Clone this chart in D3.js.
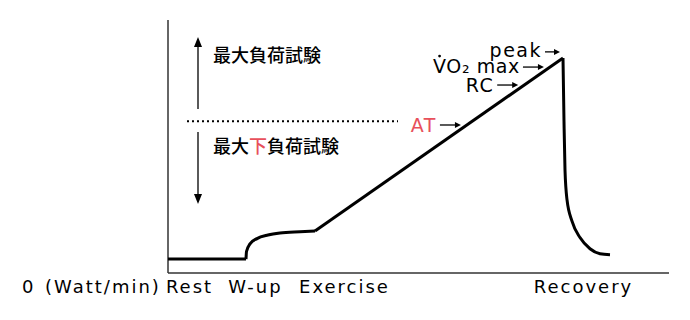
<!DOCTYPE html>
<html><head><meta charset="utf-8">
<script src="https://cdn.jsdelivr.net/npm/d3@7"></script>
<style>
body{margin:0;background:#fff;}
text{font-family:"DejaVu Sans","Noto Sans",sans-serif;}
text.jp{font-family:"Noto Sans CJK JP",sans-serif;}
</style></head>
<body><svg id="c" width="690" height="320"></svg>
<script>
// phase labels along the x axis (time units)
const phaseLabels = ["Rest","W-up","Exercise","Recovery"];
const phasePos = [2.05, 8.65, 17.55, 41.45];
const originLabel = ["0","(Watt/min)"];
// VO2 curve segments: [time, VO2]
const restPts = [[0,5.5],[7.8,5.5]];
const warmupPts = [[7.8,5.5],[7.85,8.5],[8.2,11.5],[8.9,13.6],[10,15],[11.2,15.8],[13.2,16.3],[14.7,16.6]];
const exercisePts = [[14.7,16.6],[39.5,85]];
const recoveryPts = [[39.5,85],[39.6,60],[39.7,40.7],[39.9,29],[40.4,20.5],[41.2,14],[42.2,9.6],[43.2,7.6],[44.2,7.2]];
// threshold markers on the ramp: label, VO2 level
const markers = [["AT",58.5],["RC",74.3],["VO₂ max",81.4],["peak",87.4]];
const upperLabel = "最大負荷試験";
const lowerLabel = ["最大","下","負荷試験"];
const thresholdLevel = 60;

const svg = d3.select("#c");
const x = d3.scaleLinear().domain([0,50]).range([168,668]);
const y = d3.scaleLinear().domain([0,100]).range([273,20]);

// axes
svg.append("line").attr("x1",x(0)).attr("x2",x(0)).attr("y1",y(100)).attr("y2",y(0)).attr("stroke","#333").attr("stroke-width",1.5);
svg.append("line").attr("x1",x(0)).attr("x2",x(50.1)).attr("y1",y(0)).attr("y2",y(0)).attr("stroke","#333").attr("stroke-width",1.5);

const lin = d3.line().x(d=>x(d[0])).y(d=>y(d[1]));
const mono = d3.line().x(d=>x(d[0])).y(d=>y(d[1])).curve(d3.curveMonotoneX);
const g = svg.append("g").attr("fill","none").attr("stroke","#000").attr("stroke-width",3).attr("stroke-linejoin","round");
g.append("path").attr("d",lin(restPts));
g.append("path").attr("d",mono(warmupPts));
g.append("path").attr("d",lin(exercisePts));
g.append("path").attr("d",mono(recoveryPts));

// dotted threshold line
svg.append("line").attr("x1",187).attr("x2",398).attr("y1",y(thresholdLevel)).attr("y2",y(thresholdLevel))
  .attr("stroke","#000").attr("stroke-width",2).attr("stroke-dasharray","2,3");

// vertical arrows
const ax = 198;
svg.append("line").attr("x1",ax).attr("x2",ax).attr("y1",46).attr("y2",109).attr("stroke","#000").attr("stroke-width",1.3);
svg.append("path").attr("d",`M${ax},37 L${ax-4},47 L${ax+4},47 Z`).attr("fill","#000");
svg.append("line").attr("x1",ax).attr("x2",ax).attr("y1",132).attr("y2",195).attr("stroke","#000").attr("stroke-width",1.3);
svg.append("path").attr("d",`M${ax},204 L${ax-4},194 L${ax+4},194 Z`).attr("fill","#000");

svg.append("text").attr("class","jp").attr("x",213).attr("y",62).attr("font-size",18).attr("font-weight",500).text(upperLabel);
const lt = svg.append("text").attr("class","jp").attr("x",213).attr("y",153).attr("font-size",18).attr("font-weight",500);
lowerLabel.forEach((s,i)=>lt.append("tspan").attr("fill",i===1?"#e8505b":"#000").text(s));

// marker labels with small arrows
const slope = (exercisePts[1][1]-exercisePts[0][1])/(exercisePts[1][0]-exercisePts[0][0]);
markers.forEach(([lab,v],i)=>{
  const last = i===markers.length-1;
  const tx = Math.min(exercisePts[0][0] + (v-exercisePts[0][1])/slope, exercisePts[1][0]);
  const px = x(tx) - (last?3:6), py = y(v);
  const len = last?15:21;
  svg.append("line").attr("x1",px-len).attr("x2",px-3).attr("y1",py).attr("y2",py).attr("stroke","#000").attr("stroke-width",1.3);
  svg.append("path").attr("d",`M${px},${py} L${px-6},${py-3} L${px-6},${py+3} Z`).attr("fill","#000");
  const t = svg.append("text").attr("x",px-len-3).attr("y",py+(i>=2?5.5:7)).attr("text-anchor","end")
    .attr("font-size",19).attr("letter-spacing",i===2?0.6:1.5).attr("fill",i===0?"#e8505b":"#000").text(lab);
  if(i===2){
    // dot over the V of VO2
    const bb = t.node().getBBox();
    svg.append("circle").attr("cx",bb.x+6.5).attr("cy",py-11).attr("r",1.4).attr("fill","#000");
  }
});

// bottom labels
svg.append("text").attr("x",22).attr("y",293).attr("font-size",18).attr("letter-spacing",2).text(originLabel[0]);
svg.append("text").attr("x",45).attr("y",293).attr("font-size",18).attr("letter-spacing",2).text(originLabel[1]);
phaseLabels.forEach((s,i)=>svg.append("text").attr("x",x(phasePos[i])+1).attr("y",293).attr("font-size",18).attr("letter-spacing",2).attr("text-anchor","middle").text(s));
</script></body></html>
